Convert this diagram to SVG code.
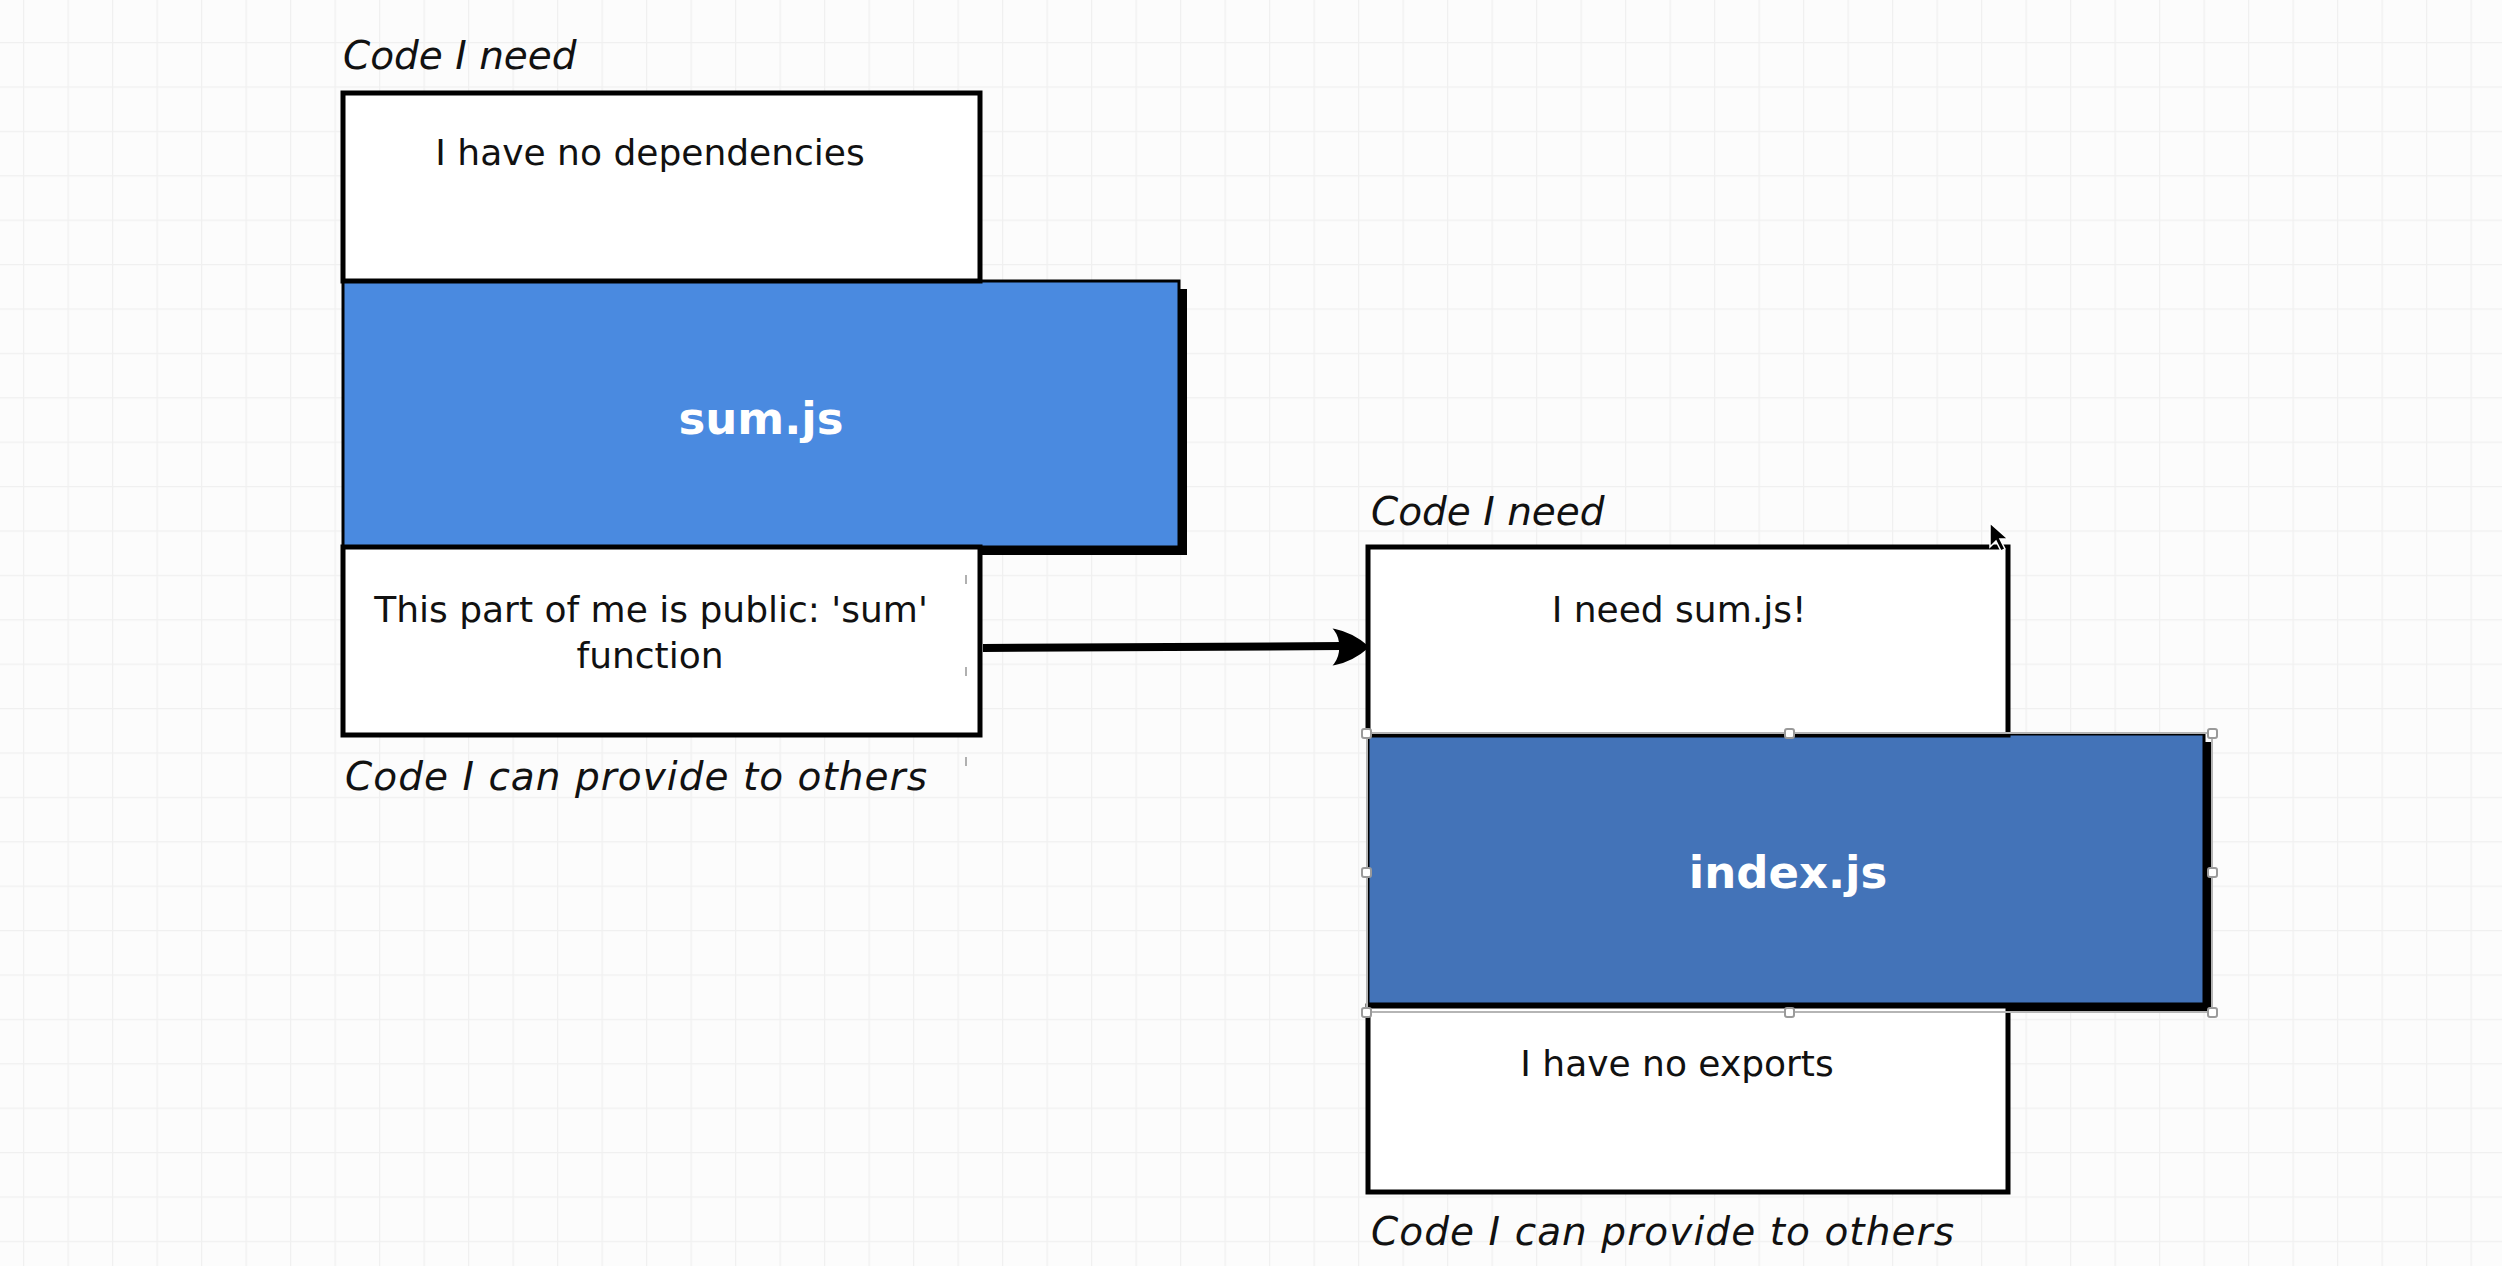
<svg xmlns="http://www.w3.org/2000/svg" width="2502" height="1266" viewBox="0 0 2502 1266">
  <style>
    .box { fill: #ffffff; stroke: #000000; stroke-width: 5; }
    .blue1 { fill: #4a8ae0; stroke: #000000; stroke-width: 3; }
    .blue2 { fill: #4373b8; stroke: #000000; stroke-width: 3; }
    .shadow { fill: #000000; }
    .body { font-family: "DejaVu Sans", "Liberation Sans", sans-serif; font-size: 36px; fill: #111111; text-anchor: middle; }
    .title { font-family: "DejaVu Sans", "Liberation Sans", sans-serif; font-size: 45px; font-weight: bold; fill: #ffffff; text-anchor: middle; }
    .label { font-family: "DejaVu Sans", "Liberation Sans", sans-serif; font-size: 39px; font-style: italic; fill: #111111; }
    .tick { stroke: #b0b0b0; stroke-width: 2; }
    .handle { fill: #ffffff; stroke: #9a9a9a; stroke-width: 2; }
  </style>
  <defs>
    <pattern id="grid" patternUnits="userSpaceOnUse" x="23" y="42" width="44.5" height="44.4">
      <path d="M0 0 V44.4 M0 0 H44.5" fill="none" stroke="#f0f0f0" stroke-width="2.5"/>
    </pattern>
  </defs>
  <rect x="0" y="0" width="2502" height="1266" fill="#fcfcfc"/>
  <rect x="0" y="0" width="2502" height="1266" fill="url(#grid)"/>

  <g id="node-sum">
    <rect class="shadow" x="351" y="289" width="836" height="266"/>
    <rect class="blue1" x="343" y="281" width="836" height="266"/>
    <rect class="box" x="343" y="93" width="637" height="188"/>
    <rect class="box" x="343" y="547" width="637" height="188"/>
    <text class="label" x="343" y="69">Code I need</text>
    <text class="body" x="650" y="165">I have no dependencies</text>
    <text class="title" x="761" y="434">sum.js</text>
    <text class="body" x="651" y="622">This part of me is public: 'sum'</text>
    <text class="body" x="650" y="668">function</text>
    <text class="label" x="345" y="790" textLength="582">Code I can provide to others</text>
    <line class="tick" x1="966" y1="575" x2="966" y2="584"/>
    <line class="tick" x1="966" y1="667" x2="966" y2="676"/>
    <line class="tick" x1="966" y1="757" x2="966" y2="766"/>
  </g>

  <g id="node-index">
    <rect class="shadow" x="1376" y="742" width="836" height="270"/>
    <rect class="blue2" x="1368" y="734" width="836" height="270"/>
    <rect class="box" x="1368" y="547" width="640" height="188"/>
    <rect class="box" x="1368" y="1006" width="640" height="186"/>
    <text class="label" x="1371" y="525">Code I need</text>
    <text class="body" x="1679" y="622">I need sum.js!</text>
    <text class="title" x="1788" y="888">index.js</text>
    <text class="body" x="1677" y="1076">I have no exports</text>
    <text class="label" x="1371" y="1245" textLength="583">Code I can provide to others</text>
  </g>

  <g id="connectors">
    <path d="M983 648 L1342 646" fill="none" stroke="#000000" stroke-width="8"/>
    <path d="M1335 630 C1350 633 1360 640 1368 647 C1360 654 1350 661 1335 664 C1342 655 1342 639 1335 630 Z" fill="#000000" stroke="#000000" stroke-width="2"/>
  </g>

  <g id="selection">
    <rect x="1367" y="733" width="845" height="279" fill="none" stroke="#b5b5b5" stroke-width="2"/>
    <rect class="handle" x="1362" y="729" width="9" height="9" rx="2"/>
    <rect class="handle" x="1785" y="729" width="9" height="9" rx="2"/>
    <rect class="handle" x="2208" y="729" width="9" height="9" rx="2"/>
    <rect class="handle" x="1362" y="868" width="9" height="9" rx="2"/>
    <rect class="handle" x="2208" y="868" width="9" height="9" rx="2"/>
    <rect class="handle" x="1362" y="1008" width="9" height="9" rx="2"/>
    <rect class="handle" x="1785" y="1008" width="9" height="9" rx="2"/>
    <rect class="handle" x="2208" y="1008" width="9" height="9" rx="2"/>
  </g>

  <g id="cursor">
    <path d="M1990 523 L1990 547 L1996 541 L2001 551 L2005 549 L2000 539 L2008 539 Z" fill="#000000" stroke="#ffffff" stroke-width="1.5"/>
  </g>
</svg>
